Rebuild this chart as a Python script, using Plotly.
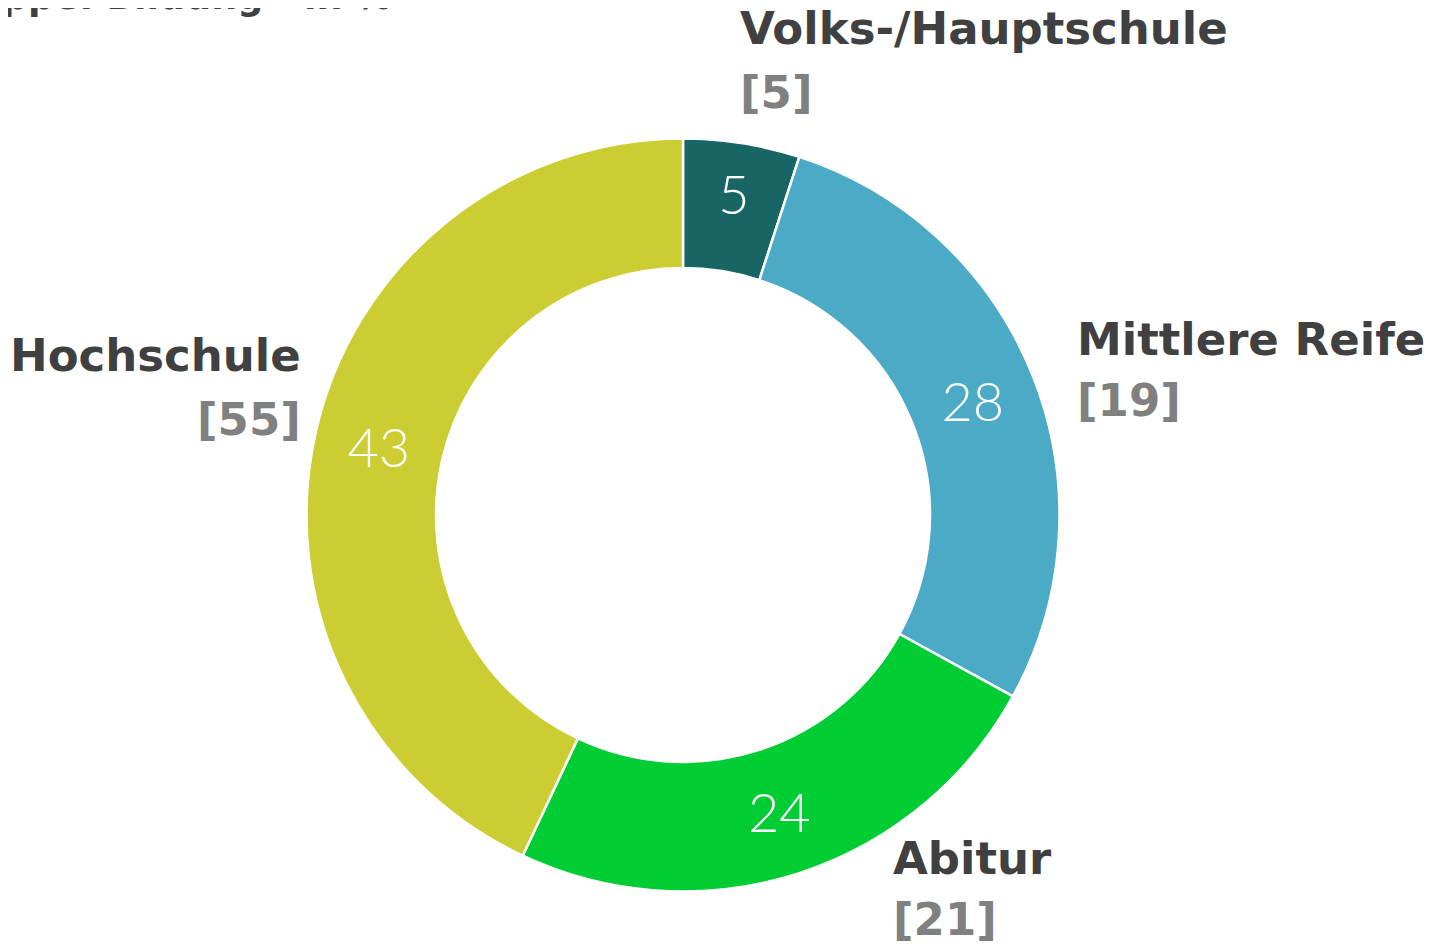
import plotly.graph_objects as go

categories = ["Volks-/Hauptschule", "Mittlere Reife", "Abitur", "Hochschule"]
values = [5, 28, 24, 43]
prev_values = [5, 19, 21, 55]
colors = ["#176565", "#4BABC6", "#00CC33", "#CCCC33"]
title_text = "Gruppe: Bildung - in %"

W, H = 1435, 951
cx, cy, R = 675, 507, 376.5

fig = go.Figure()
fig.add_trace(go.Pie(
    labels=categories,
    values=values,
    hole=0.656,
    sort=False,
    direction="clockwise",
    rotation=0,
    marker=dict(colors=colors, line=dict(color="white", width=2.5)),
    textinfo="value",
    textposition="inside",
    insidetextorientation="horizontal",
    insidetextfont=dict(family="Lato", size=54, color="white", weight=300),
    hoverinfo="label+value",
    showlegend=False,
    domain=dict(x=[(cx - R) / W, (cx + R) / W], y=[(H - cy - R) / H, (H - cy + R) / H]),
))

label_pos = [
    (730, 32, 95, "left"),
    (1067, 342, 403, "left"),
    (883, 861, 922, "left"),
    (295, 359, 422, "right"),
]
off = 11
for cat, prev, (x, y1, y2, anchor) in zip(categories, prev_values, label_pos):
    fig.add_annotation(x=x / W, y=1 - (y1 - off) / H, xref="paper", yref="paper",
                       text="<b>%s</b>" % cat, showarrow=False, xanchor=anchor, yanchor="middle",
                       font=dict(family="DejaVu Sans", size=45, color="#404040"))
    fig.add_annotation(x=x / W, y=1 - (y2 - off) / H, xref="paper", yref="paper",
                       text="<b>[%d]</b>" % prev, showarrow=False, xanchor=anchor, yanchor="middle",
                       font=dict(family="DejaVu Sans", size=45, color="#808080"))

fig.add_annotation(x=386 / W, y=1 - 12 / H, xref="paper", yref="paper",
                   text="<b>%s</b>" % title_text, showarrow=False, xanchor="right", yanchor="bottom",
                   font=dict(family="DejaVu Sans", size=36.5, color="#404040"))

fig.update_layout(width=W, height=H, margin=dict(l=0, r=0, t=0, b=0),
                  paper_bgcolor="white", plot_bgcolor="white")
fig.write_html("out.html")
